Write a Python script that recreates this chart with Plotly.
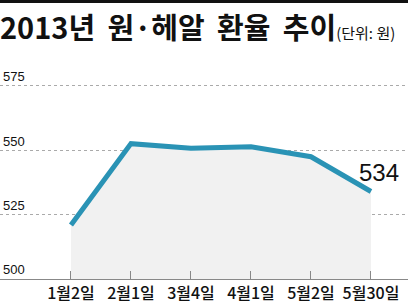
import plotly.graph_objects as go

dates = ["1월2일", "2월1일", "3월4일", "4월1일", "5월2일", "5월30일"]
rates = [521, 552.6, 550.8, 551.4, 547.5, 534]
y_ticks = [500, 525, 550, 575]
title_words = ["2013년", "원·헤알", "환율", "추이"]
unit_text = "(단위: 원)"
last_label = "534"

LINE = "#2a93b5"
FILL = "#f1f1f1"
KR = "Noto Sans CJK KR"
NUM = "Liberation Sans Narrow, Liberation Sans, Arial"

fig = go.Figure()
fig.add_trace(go.Scatter(
    x=dates, y=rates, mode="lines",
    line=dict(color=LINE, width=5),
    fill="tozeroy", fillcolor=FILL,
    hoverinfo="skip",
))

fig.add_annotation(
    x=dates[-1], y=rates[-1], text=last_label, showarrow=False,
    xshift=8, yshift=19, font=dict(family=NUM, size=24, color="#111"),
)

# top border
fig.add_shape(type="line", xref="paper", yref="paper",
              x0=0, x1=1, y0=1.267, y1=1.267,
              line=dict(color="#111", width=3))

title_main = " \u2009".join(title_words)

fig.update_layout(
    width=408, height=304,
    margin=dict(l=0, r=0, t=60, b=25),
    paper_bgcolor="white", plot_bgcolor="white",
    showlegend=False,
    title=dict(
        text=f"<b>{title_main}</b><span style='font-size:15px;font-weight:normal'>{unit_text}</span>",
        x=0.0, xanchor="left", y=0.905, yanchor="middle",
        yref="container",
        font=dict(family=KR, size=29, color="#111"),
    ),
    xaxis=dict(
        type="category", range=[-1.183, 5.617],
        showgrid=False, showline=True, linecolor="#888", linewidth=1,
        ticks="inside", ticklen=8, tickcolor="#888", tickwidth=1,
        tickfont=dict(family=KR, size=16, color="#111", weight=500),
        zeroline=False, fixedrange=True,
    ),
    yaxis=dict(
        range=[500, 585.1], tickvals=y_ticks,
        ticklabelposition="inside top",
        showgrid=True, gridcolor="#aaa", griddash="dot", gridwidth=1,
        zeroline=False, showline=False, ticks="",
        tickfont=dict(family=NUM, size=13, color="#111"),
        fixedrange=True,
    ),
)

fig.write_html("out.html")
